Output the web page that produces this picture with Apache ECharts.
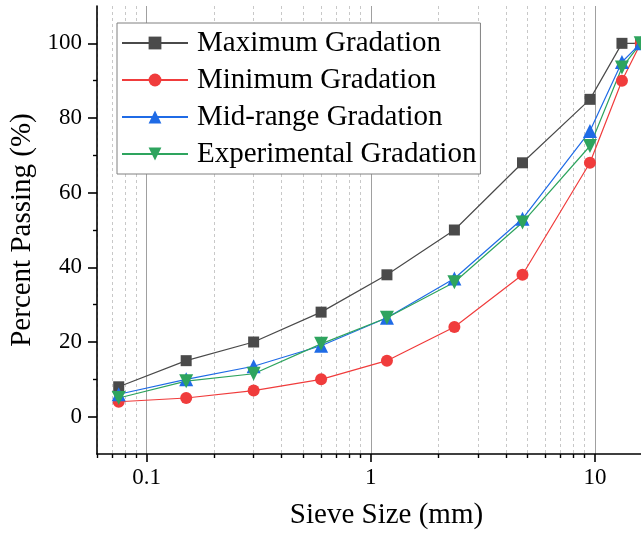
<!DOCTYPE html>
<html>
<head>
<meta charset="utf-8">
<script src="https://cdn.jsdelivr.net/npm/echarts@6/dist/echarts.min.js"></script>
<style>
  html, body { margin: 0; padding: 0; background: #fff; }
  #chart { width: 641px; height: 535px; }
</style>
</head>
<body>
<div id="chart"></div>
<script>
// Sieve sizes (mm) and percent passing for each gradation curve
const sieveSizes = [0.075, 0.15, 0.3, 0.6, 1.18, 2.36, 4.75, 9.5, 13.2, 16];
const maximumGradation = [8, 15, 20, 28, 38, 50, 68, 85, 100, 100];
const minimumGradation = [4, 5, 7, 10, 15, 24, 38, 68, 90, 100];
const midRangeGradation = [6, 10, 13.5, 19, 26.5, 37, 53, 76.5, 95, 100];
const experimentalGradation = [5, 9.5, 11.5, 19.5, 26.5, 36, 52, 72.5, 93.5, 100];

// Tick positions
const xMajorTicks = [0.1, 1, 10];
const xMinorTicks = [0.06, 0.07, 0.08, 0.09,
  0.2, 0.3, 0.4, 0.5, 0.6, 0.7, 0.8, 0.9,
  2, 3, 4, 5, 6, 7, 8, 9, 20];
const yMajorTicks = [0, 20, 40, 60, 80, 100];
const yMinorTicks = [10, 30, 50, 70, 90];

const X_MIN = 0.06, X_MAX = 23;
const Y_MIN = -10, Y_MAX = 110;
const FONT = '"Liberation Serif", "DejaVu Serif", serif';

function pairs(values) {
  return sieveSizes.map((s, i) => [s, values[i]]);
}

const chart = echarts.init(document.getElementById('chart'), null, { renderer: 'canvas' });

const baseX = {
  type: 'log',
  logBase: 10,
  min: X_MIN,
  max: X_MAX,
  position: 'bottom',
  gridIndex: 0
};
const baseY = {
  type: 'value',
  min: Y_MIN,
  max: Y_MAX,
  interval: 10,
  position: 'left',
  gridIndex: 0
};

chart.setOption({
  animation: false,
  backgroundColor: '#fff',
  // the plotting frame runs on past the right edge of the page
  grid: { left: 97, right: -35, top: 6, bottom: 81, containLabel: false, outerBoundsMode: 'none' },
  legend: {
    orient: 'vertical',
    left: 117,
    top: 23,
    padding: [5, 4, 5, 4],
    itemGap: 7,
    itemWidth: 66,
    itemHeight: 16,
    backgroundColor: '#fff',
    borderColor: '#808080',
    borderWidth: 1,
    textStyle: { fontFamily: FONT, fontSize: 29, color: '#000', lineHeight: 30, padding: [0, 0, 0, 4] },
    data: ['Maximum Gradation', 'Minimum Gradation', 'Mid-range Gradation', 'Experimental Gradation']
  },
  xAxis: [
    Object.assign({}, baseX, {
      name: 'Sieve Size (mm)',
      nameLocation: 'middle',
      nameGap: 47,
      nameTextStyle: { fontFamily: FONT, fontSize: 29, color: '#000' },
      axisLine: { show: true, onZero: false, lineStyle: { color: '#000', width: 1.6 } },
      axisTick: { show: true, inside: false, length: 8, customValues: xMajorTicks, lineStyle: { color: '#000', width: 1.6 } },
      axisLabel: { show: true, margin: 12, customValues: xMajorTicks, fontFamily: FONT, fontSize: 23, color: '#000',
        formatter: v => String(v) },
      splitLine: { show: true, lineStyle: { color: '#a0a0a0', width: 1, type: 'solid' } },
      minorTick: { show: false },
      minorSplitLine: { show: false }
    }),
    Object.assign({}, baseX, {
      axisLine: { show: false, onZero: false },
      axisTick: { show: true, inside: false, length: 4, customValues: xMinorTicks, lineStyle: { color: '#000', width: 1.4 } },
      axisLabel: { show: false },
      splitLine: { show: true, lineStyle: { color: '#c8c8c8', width: 1, type: [3, 3] } }
    })
  ],
  yAxis: [
    Object.assign({}, baseY, {
      name: 'Percent Passing (%)',
      nameLocation: 'middle',
      nameGap: 47,
      nameTextStyle: { fontFamily: FONT, fontSize: 29, color: '#000' },
      axisLine: { show: true, onZero: false, lineStyle: { color: '#000', width: 1.6 } },
      axisTick: { show: true, inside: false, length: 9, customValues: yMajorTicks, lineStyle: { color: '#000', width: 1.6 } },
      axisLabel: { show: true, margin: 15, customValues: yMajorTicks, fontFamily: FONT, fontSize: 23, color: '#000' },
      splitLine: { show: false }
    }),
    Object.assign({}, baseY, {
      axisLine: { show: false, onZero: false },
      axisTick: { show: true, inside: false, length: 4, customValues: yMinorTicks, lineStyle: { color: '#000', width: 1.4 } },
      axisLabel: { show: false },
      splitLine: { show: false }
    })
  ],
  series: [
    {
      name: 'Maximum Gradation', type: 'line', xAxisIndex: 0, yAxisIndex: 0,
      data: pairs(maximumGradation),
      symbol: 'rect', symbolSize: 11,
      itemStyle: { color: '#4a4a4a' },
      lineStyle: { color: '#4a4a4a', width: 1.2 },
      z: 3
    },
    {
      name: 'Minimum Gradation', type: 'line', xAxisIndex: 0, yAxisIndex: 0,
      data: pairs(minimumGradation),
      symbol: 'circle', symbolSize: 12,
      itemStyle: { color: '#f03c3c' },
      lineStyle: { color: '#f03c3c', width: 1.2 },
      z: 3
    },
    {
      name: 'Mid-range Gradation', type: 'line', xAxisIndex: 0, yAxisIndex: 0,
      data: pairs(midRangeGradation),
      symbol: 'triangle', symbolSize: 14,
      itemStyle: { color: '#1f6be6' },
      lineStyle: { color: '#1f6be6', width: 1.2 },
      z: 3
    },
    {
      name: 'Experimental Gradation', type: 'line', xAxisIndex: 0, yAxisIndex: 0,
      data: pairs(experimentalGradation),
      symbol: 'triangle', symbolRotate: 180, symbolSize: 14,
      itemStyle: { color: '#2ea45e' },
      lineStyle: { color: '#2ea45e', width: 1.2 },
      z: 3
    }
  ]
});
</script>
</body>
</html>
